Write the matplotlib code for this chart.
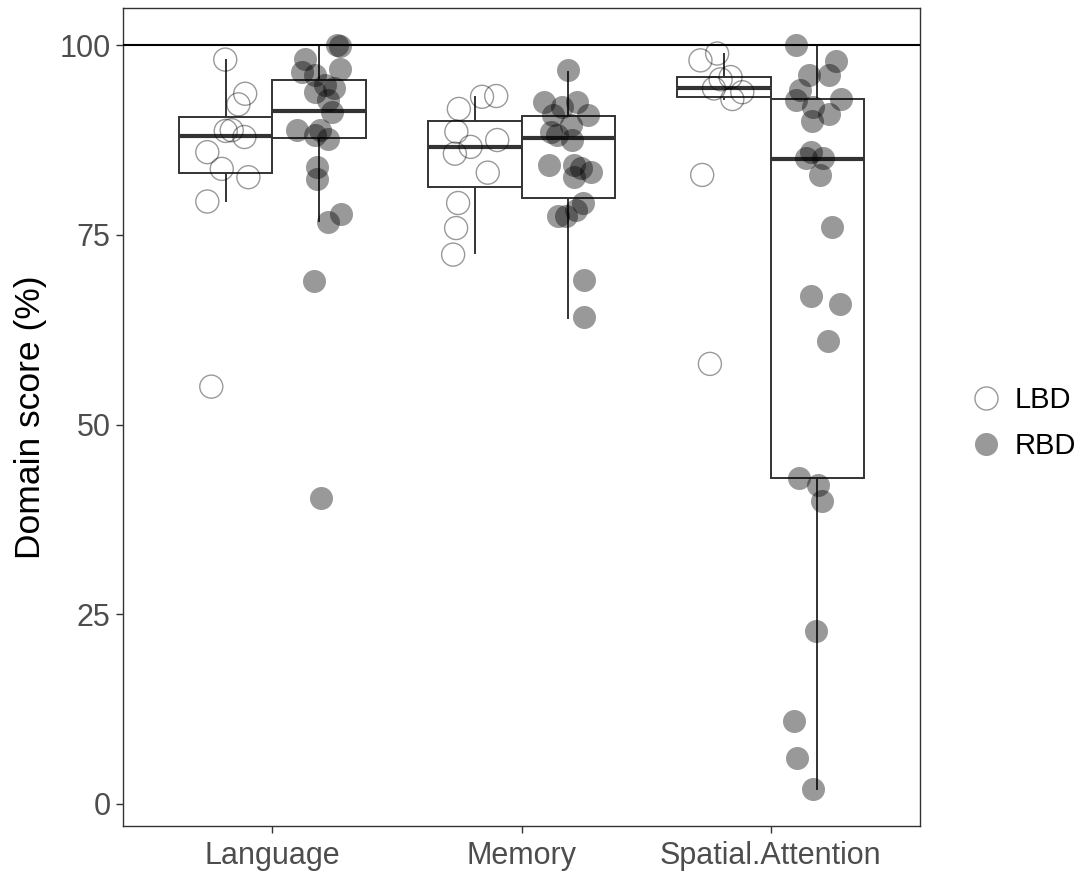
"""Domain score (%) por dominio cognitivo, LBD vs RBD: boxplot + puntos con jitter."""
import numpy as np
import matplotlib
matplotlib.use("Agg")
import matplotlib.pyplot as plt
from matplotlib.lines import Line2D

plt.rcParams["font.family"] = ["Liberation Sans", "DejaVu Sans"]

DOMINIOS = ["Language", "Memory", "Spatial.Attention"]
GRUPOS = ["LBD", "RBD"]

# puntuaciones individuales (%)
lang_lbd = [98.1, 93.6, 92.2, 88.7, 88.8, 87.9, 85.9, 83.7, 82.6, 79.4, 55.0]
lang_rbd = [100.0, 99.9, 98.2, 96.5, 96.9, 96.1, 94.7, 94.3, 93.8, 92.8, 91.2,
            88.8, 88.8, 88.2, 87.7, 84.0, 82.4, 77.8, 76.7, 68.9, 40.3]
mem_lbd = [93.2, 93.3, 91.6, 88.6, 87.5, 86.6, 85.7, 83.2, 79.2, 75.9, 72.4]
mem_rbd = [96.7, 92.5, 92.5, 91.9, 90.8, 90.8, 89.5, 88.6, 88.2, 87.5, 84.2,
           84.2, 83.8, 83.3, 82.6, 79.2, 78.3, 77.5, 77.5, 69.1, 64.2]
spa_lbd = [98.9, 98.0, 95.8, 95.5, 94.3, 93.8, 92.9, 82.9, 58.0]
spa_rbd = [100.0, 97.9, 96.1, 96.1, 94.1, 92.8, 92.9, 91.9, 90.9, 90.0, 85.9,
           85.1, 85.1, 82.9, 76.0, 66.9, 65.9, 61.0, 43.0, 42.1, 39.9, 22.8,
           11.0, 6.0, 2.0]

# desplazamiento horizontal (jitter) de cada punto
jit_lang_lbd = [-0.002, 0.078, 0.051, 0.0, 0.024, 0.075, -0.074, -0.016, 0.091, -0.074, -0.058]
jit_lang_rbd = [0.071, 0.084, -0.056, -0.070, 0.084, -0.016, 0.024, 0.058, -0.016, 0.037, 0.051,
                -0.090, 0.004, -0.016, 0.037, -0.010, -0.010, 0.088, 0.035, -0.019, 0.009]
jit_mem_lbd = [0.029, 0.086, -0.064, -0.074, 0.090, -0.017, -0.080, 0.052, -0.067, -0.075, -0.087]
jit_mem_rbd = [0.0, -0.097, 0.037, -0.023, 0.078, -0.063, 0.011, -0.070, -0.043, 0.017, -0.076,
               0.024, 0.051, 0.091, 0.024, 0.058, 0.031, -0.039, -0.009, 0.064, 0.064]
jit_spa_lbd = [-0.027, -0.094, 0.027, -0.013, -0.040, 0.074, 0.034, -0.087, -0.056]
jit_spa_rbd = [-0.084, 0.074, 0.049, -0.034, -0.071, -0.087, 0.094, -0.018, 0.047, -0.022, -0.024,
               -0.044, 0.023, 0.013, 0.059, -0.024, 0.090, 0.043, -0.074, 0.002, 0.018, -0.004,
               -0.092, -0.080, -0.018]

# estadisticos de las cajas (orden: Lang LBD, Lang RBD, Mem LBD, Mem RBD, Spa LBD, Spa RBD)
box_q1 = [83.1, 87.8, 81.3, 79.9, 93.2, 43.0]
box_med = [88.0, 91.3, 86.6, 87.8, 94.4, 85.0]
box_q3 = [90.5, 95.4, 90.0, 90.7, 95.8, 92.9]
box_lo = [79.5, 76.8, 72.6, 64.1, 92.9, 2.0]
box_hi = [98.0, 100.0, 93.2, 96.5, 98.9, 100.0]

TECHO = 100

W, H = 1082, 872
DODGE = 0.1875
LINEA = "#333333"
PUNTO = (0, 0, 0, 0.4)
S_PUNTO = 275


def main():
    fig = plt.figure(figsize=(W / 100, H / 100), dpi=100)
    ax = fig.add_axes([123 / W, 1 - 826 / H, (920 - 123) / W, (826 - 8) / H])

    pos = []
    for i in range(len(DOMINIOS)):
        pos += [i + 1 - DODGE, i + 1 + DODGE]

    stats = [dict(q1=a, med=b, q3=c, whislo=d, whishi=e)
             for a, b, c, d, e in zip(box_q1, box_med, box_q3, box_lo, box_hi)]
    ax.bxp(stats, positions=pos, widths=0.375, showfliers=False, showcaps=False,
           patch_artist=True,
           boxprops=dict(facecolor="white", edgecolor=LINEA, linewidth=1.4),
           medianprops=dict(color=LINEA, linewidth=3.0, solid_capstyle="butt"),
           whiskerprops=dict(color=LINEA, linewidth=1.4), zorder=2)

    datos = [(lang_lbd, jit_lang_lbd), (lang_rbd, jit_lang_rbd),
             (mem_lbd, jit_mem_lbd), (mem_rbd, jit_mem_rbd),
             (spa_lbd, jit_spa_lbd), (spa_rbd, jit_spa_rbd)]
    for k, (vals, jit) in enumerate(datos):
        x = pos[k] + np.asarray(jit)
        if k % 2 == 0:   # LBD: circulo abierto
            ax.scatter(x, vals, s=S_PUNTO, facecolors="none", edgecolors=PUNTO,
                       linewidths=1.0, zorder=3)
        else:            # RBD: circulo relleno
            ax.scatter(x, vals, s=S_PUNTO, color=PUNTO, linewidths=0, zorder=3)

    ax.axhline(TECHO, color="black", linewidth=1.5, zorder=4)

    ax.set_xlim(0.4, 3.6)
    ax.set_ylim(-2.9, 104.9)
    ax.set_xticks([1, 2, 3])
    ax.set_xticklabels(DOMINIOS)
    ax.set_yticks([0, 25, 50, 75, 100])
    ax.tick_params(axis="both", colors=LINEA, labelcolor="#4D4D4D", labelsize=22,
                   length=5, width=1.0)
    ax.tick_params(axis="x", pad=6)
    ax.tick_params(axis="y", pad=4)
    for sp in ax.spines.values():
        sp.set_color(LINEA)
        sp.set_linewidth(1.0)
    ax.set_ylabel("Domain score (%)", fontsize=25.5, color="black", labelpad=9)

    handles = [Line2D([], [], marker="o", ls="", markersize=16.6, markerfacecolor="none",
                      markeredgecolor=PUNTO, markeredgewidth=1.0),
               Line2D([], [], marker="o", ls="", markersize=16.6, markerfacecolor=PUNTO,
                      markeredgecolor="none")]
    fig.legend(handles, GRUPOS, loc="center left", bbox_to_anchor=(971 / W, 1 - 423 / H),
               frameon=False, fontsize=21, handlelength=1.0, handletextpad=0.5,
               labelspacing=0.6, borderpad=0, borderaxespad=0)

    fig.savefig("out.png", dpi=100)


if __name__ == "__main__":
    main()
